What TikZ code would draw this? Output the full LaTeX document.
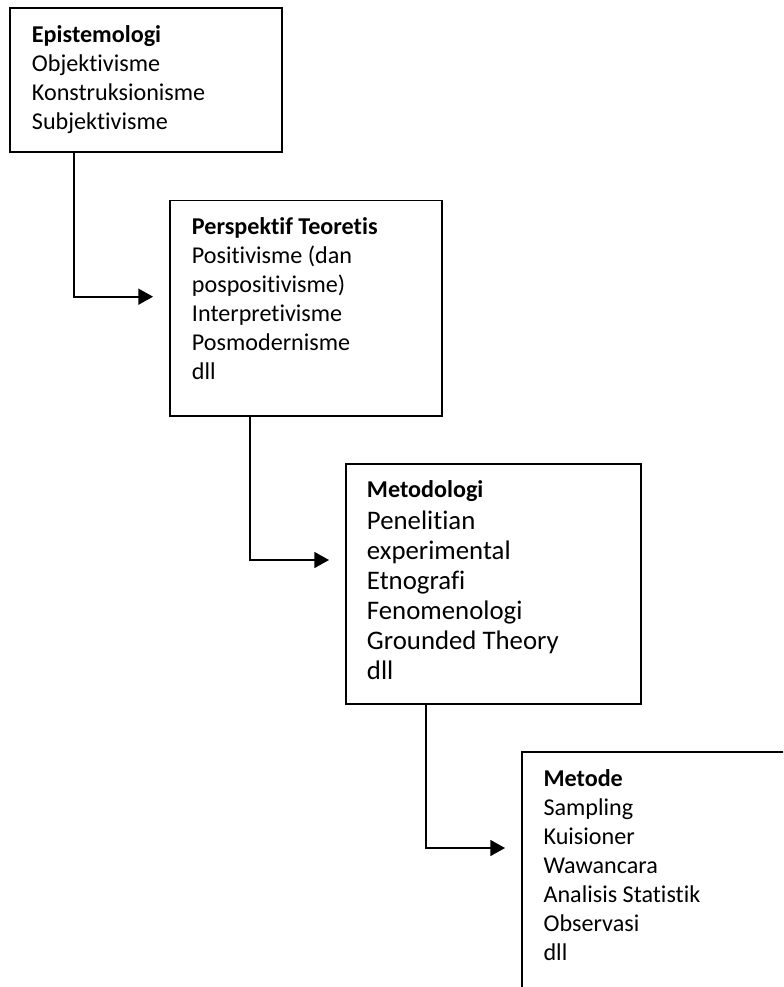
\documentclass[tikz,border=0pt]{standalone}
\usepackage{fontspec}
\setmainfont{Carlito}[Ligatures={NoCommon}]
\usepackage{tikz}
\usetikzlibrary{calc}
\usetikzlibrary{arrows.meta}
\tikzset{
  box/.style={draw, line width=1.2pt, rectangle, anchor=north west, inner sep=0pt, outer sep=0pt},
  txt/.style={anchor=base west, align=flush left, text width=200pt, inner sep=0pt,
              font=\fontsize{18.1}{21.75}\selectfont},
  conn/.style={line width=1.2pt, -{Triangle[length=11pt,width=12pt]}}
}

\begin{document}
\begin{tikzpicture}[x=0.75pt,y=-0.75pt]
\useasboundingbox (0,0) rectangle (783,987);
\clip (0,0) rectangle (783,987);

% ---------------- Boxes ----------------
\node[box, minimum width=204pt, minimum height=108pt] (epis) at (10,8) {};
\node[box, minimum width=204pt, minimum height=161.5pt] (persp) at (170,200.7) {};
\node[box, minimum width=221.25pt, minimum height=180pt] (metod) at (346,464) {};
\node[box, minimum width=210pt, minimum height=190pt] (metode) at (522,752) {};

% ---------------- Texts ----------------
\node[txt] (episT) at ($(epis.north west)+(21.7,35)$)
  {\textbf{Epistemologi}\\Objektivisme\\Konstruksionisme\\Subjektivisme};
\node[txt] (perspT) at ($(persp.north west)+(21.7,33.6)$)
  {\textbf{Perspektif Teoretis}\\Positivisme (dan\\pospositivisme)\\Interpretivisme\\Posmodernisme\\dll};
\node[txt, font=\fontsize{20.1}{22.5}\selectfont] (metodT) at ($(metod.north west)+(20.7,33.7)$)
  {{\fontsize{18.1}{21.75}\selectfont\textbf{Metodologi}}\\[1.5pt]Penelitian\\experimental\\Etnografi\\Fenomenologi\\Grounded Theory\\dll};
\node[txt] (metodeT) at ($(metode.north west)+(21.3,34)$)
  {\textbf{Metode}\\Sampling\\Kuisioner\\Wawancara\\Analisis Statistik\\Observasi\\dll};

% ---------------- Connectors ----------------
\foreach \from/\to/\dx in {epis/persp/48pt, persp/metod/60pt, metod/metode/60pt}{
  \draw[conn] ([xshift=\dx]\from.south west) |- ([xshift=-12.75pt,yshift=-72pt]\to.north west);
}

\end{tikzpicture}
\end{document}
